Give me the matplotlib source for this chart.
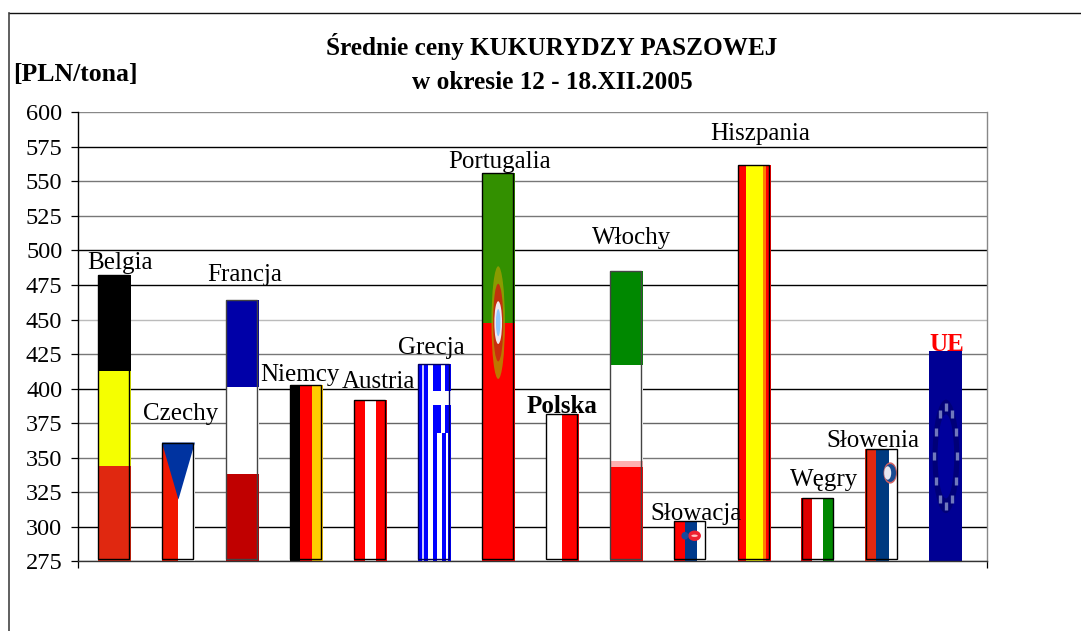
import numpy as np
import matplotlib
matplotlib.use("Agg")
import matplotlib.pyplot as plt
from matplotlib.lines import Line2D
from matplotlib.patches import Ellipse

plt.rcParams.update({"font.family": "Liberation Serif", "font.size": 18})

COUNTRIES = ["Belgia", "Czechy", "Francja", "Niemcy", "Austria", "Grecja", "Portugalia",
             "Polska", "Włochy", "Słowacja", "Hiszpania", "Węgry", "Słowenia", "UE"]
PRICES = [482, 361, 464, 403, 392, 418, 556, 382, 485, 304, 562, 321, 356, 427]
YTICKS = list(range(275, 601, 25))
TITLE = "Średnie ceny KUKURYDZY PASZOWEJ\nw okresie 12 - 18.XII.2005"
YLABEL = "[PLN/tona]"

BASE = 275
W = 33 / 64  # bar width
RED, WHITE, BLUE = "#ff0000", "#ffffff", "#0000ff"
# the scan renders gridlines unevenly, some dark and some grey
GRID_COL = ["#777777", "#000000", "#777777", "#777777", "#666666", "#000000", "#777777",
            "#bbbbbb", "#000000", "#000000", "#777777", "#777777", "#000000", "#888888"]
# label offset from top centre of the bar, in pixels
LABEL_OFF = [(6, 6), (2, 23), (2, 19), (-6, 4), (8, 12), (-3, 10), (1, 5),
             (0, 1), (5, 27), (6, 1), (6, 25), (6, 12), (-9, 2), (1, 0)]

fig = plt.figure(figsize=(10.81, 6.31), dpi=100)
ax = fig.add_axes([77.5 / 1081, 1 - 561.4 / 631, 909 / 1081, 449.1 / 631])


def vstripes(i, val, cols, widths, y0=0.0, y1=1.0, x0=0.0, x1=1.0):
    # vertical stripes inside the bar, all fractions of the bar size
    h = val - BASE
    left = i - W / 2 + x0 * W
    span = (x1 - x0) * W
    pos = 0.0
    total = sum(widths)
    for c, wd in zip(cols, widths):
        ax.bar(left + span * pos / total, h * (y1 - y0), span * wd / total,
               bottom=val - h * y1, color=c, align="edge", lw=0, zorder=2)
        pos += wd


def hstripes(i, val, cols, cuts):
    # horizontal stripes, cuts are fractions counted from the top of the bar
    h = val - BASE
    for c, a, b in zip(cols, [0] + cuts, cuts + [1]):
        ax.bar(i, h * (b - a), W, bottom=val - h * b, color=c, lw=0, zorder=2)


def oval(i, val, fy, w, fh, col, dx=0.0, z=3, alpha=1.0):
    h = val - BASE
    ax.add_patch(Ellipse((i + dx, val - fy * h), w, fh * h, color=col, lw=0, zorder=z, alpha=alpha))


x = np.arange(len(COUNTRIES))

hstripes(0, PRICES[0], ["black", "#f5ff00", "#e02810"], [1 / 3, 2 / 3])

vstripes(1, PRICES[1], ["#f01800", WHITE], [1, 1])
h1 = PRICES[1] - BASE
ax.fill([1 - W / 2, 1 + W / 2, 1], [PRICES[1], PRICES[1], PRICES[1] - 0.48 * h1],
        color="#0033a0", lw=0, zorder=3)

hstripes(2, PRICES[2], ["#0000a8", WHITE, "#c00000"], [1 / 3, 2 / 3])
vstripes(3, PRICES[3], ["black", RED, "#ffcc00"], [10, 12, 11])
vstripes(4, PRICES[4], [RED, WHITE, RED], [1, 1, 1])

# Greek flag lies on its side, canton at the top right
vstripes(5, PRICES[5], [BLUE, "#c8c8ff", BLUE, WHITE, BLUE, WHITE, BLUE, WHITE, BLUE],
         [4.3, 2, 4, 5, 4, 4, 4, 2, 3])
vstripes(5, PRICES[5], [BLUE, WHITE, BLUE], [8, 4, 5], y1=0.35, x0=0.46)
vstripes(5, PRICES[5], [WHITE], [1], y0=0.14, y1=0.21, x0=0.46)

hstripes(6, PRICES[6], ["#339000", RED], [0.385])
oval(6, PRICES[6], 0.385, 0.21, 0.29, "#a8a000", alpha=0.75)
oval(6, PRICES[6], 0.385, 0.16, 0.20, "#cc2010", z=4, alpha=0.85)
oval(6, PRICES[6], 0.385, 0.12, 0.11, "#f0e8f0", z=5)
oval(6, PRICES[6], 0.385, 0.07, 0.07, "#90c8ff", z=6)

vstripes(7, PRICES[7], [WHITE, RED], [1, 1])
hstripes(8, PRICES[8], ["#008800", WHITE, "#ffb0b0", RED], [0.324, 0.653, 0.673])

vstripes(9, PRICES[9], [RED, "#003a8c", WHITE], [1, 1.1, 0.9])
oval(9, PRICES[9], 0.36, 0.2, 0.26, "#ee2030", dx=0.07)
oval(9, PRICES[9], 0.36, 0.11, 0.19, "#1a4a9c", dx=-0.08)
oval(9, PRICES[9], 0.36, 0.1, 0.06, "#ffc0c0", dx=0.07, z=4)

vstripes(10, PRICES[10], [RED, "#ffff00", "#ff8000", RED], [8, 17, 3, 5])
vstripes(11, PRICES[11], ["#e00000", WHITE, "#008800"], [1, 1, 1])

vstripes(12, PRICES[12], ["#e42810", "#003a80", WHITE], [1, 1.1, 0.9])
oval(12, PRICES[12], 0.21, 0.21, 0.19, "#d06060", dx=0.13)
oval(12, PRICES[12], 0.21, 0.18, 0.16, "#1a4a90", dx=0.13, z=4)
oval(12, PRICES[12], 0.21, 0.11, 0.12, "#e8e8f0", dx=0.09, z=5)

hstripes(13, PRICES[13], ["#000094"], [])
h13 = PRICES[13] - BASE
ang = np.arange(12) * np.pi / 6
ax.add_patch(Ellipse((13, PRICES[13] - 0.5 * h13), 0.42, 0.54 * h13, color="#000078", lw=0, zorder=3))
ax.add_patch(Ellipse((13, PRICES[13] - 0.5 * h13), 0.26, 0.4 * h13, color="#00009c", lw=0, zorder=3))
ax.plot(13 + 0.18 * np.sin(ang), PRICES[13] - 0.5 * h13 + 0.235 * h13 * np.cos(ang), "|",
        color="#7078bc", ms=6, mew=2.4, zorder=4)

# thin outline, sits a little inside the flag picture
OUTLINE = ["black"] * 2 + ["#444444"] + ["black"] * 2 + ["#000060", "black", "black",
                                                        "#444444", "black", "black", "black", "black"]
for i, val in enumerate(PRICES[:-1]):
    ax.bar(i - W / 2 + 0.5 / 64, val - BASE - 1.4, 31 / 64, bottom=BASE + 1.4, fill=False,
           edgecolor=OUTLINE[i], lw=1.0, align="edge", zorder=5)

for t, c in zip(YTICKS, GRID_COL):
    ax.axhline(t, color=c, lw=1.0, zorder=1)

for i, (name, val) in enumerate(zip(COUNTRIES, PRICES)):
    bold = name in ("Polska", "UE")
    ax.annotate(name, (i, val), xytext=(LABEL_OFF[i][0] * 0.72, LABEL_OFF[i][1] * 0.72),
                textcoords="offset points", ha="center", va="baseline",
                fontweight="bold" if bold else "normal",
                color="red" if name == "UE" else "black", zorder=6, annotation_clip=False)

ax.set_xlim(-0.578, 13.635)
ax.set_ylim(275, 600)
ax.set_yticks(YTICKS)
ax.set_xticks([-0.578, 13.635])
ax.set_xticklabels([])
ax.tick_params(axis="y", length=5.4, width=0.9, pad=5.5, labelsize=17.5)
ax.tick_params(axis="x", length=5, width=0.9)
ax.spines["left"].set_color("black")
ax.spines["right"].set_color("#888888")
ax.spines["top"].set_visible(False)
ax.spines["bottom"].set_color("#333333")
for s in ax.spines.values():
    s.set_linewidth(1.0)

fig.text(552 / 1081, 1 - 55 / 631, TITLE.split("\n")[0], ha="center", va="baseline",
         fontweight="bold", fontsize=18.2)
fig.text(552 / 1081, 1 - 89 / 631, TITLE.split("\n")[1], ha="center", va="baseline",
         fontweight="bold", fontsize=18.2)
fig.text(13 / 1081, 1 - 81 / 631, YLABEL, ha="left", va="baseline", fontweight="bold", fontsize=18.5)

# frame of the pasted chart, only top and left survive
fig.add_artist(Line2D([9 / 1081, 1], [1 - 12.5 / 631] * 2, color="#111111", lw=1.0))
fig.add_artist(Line2D([9 / 1081] * 2, [1 - 12.5 / 631, 0], color="#444444", lw=1.2))

fig.savefig("out.png", dpi=100)
